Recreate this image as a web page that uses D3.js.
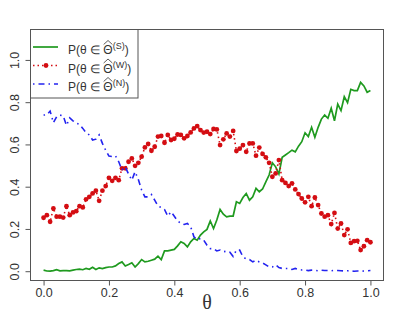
<!DOCTYPE html>
<html>
<head>
<meta charset="utf-8">
<script src="https://cdn.jsdelivr.net/npm/d3@7"></script>
<style>
  html, body { margin: 0; padding: 0; background: #fff; }
  svg { display: block; }
</style>
</head>
<body>
<figure id="chart" style="margin:0"></figure>
<script>
// theta grid 0, 0.01, ..., 1
const theta = d3.range(101).map(i => i / 100);

// P(theta in Theta^(S)) - strong
const probS = [
  0.005, 0.001, 0.0, 0.003, 0.007, 0.002, 0.003, 0.003, 0.002, 0.005,
  0.008, 0.01, 0.007, 0.013, 0.009, 0.019, 0.008, 0.016, 0.012, 0.017,
  0.02, 0.02, 0.025, 0.036, 0.044, 0.025, 0.032, 0.04, 0.02, 0.036,
  0.055, 0.044, 0.047, 0.052, 0.057, 0.071, 0.055, 0.096, 0.096, 0.1,
  0.103, 0.12, 0.139, 0.131, 0.115, 0.139, 0.155, 0.147, 0.171, 0.186,
  0.198, 0.238, 0.202, 0.242, 0.292, 0.27, 0.257, 0.261, 0.261, 0.329,
  0.321, 0.349, 0.368, 0.336, 0.352, 0.392, 0.376, 0.389, 0.423, 0.455,
  0.513, 0.494, 0.46, 0.539, 0.55, 0.561, 0.573, 0.565, 0.592, 0.613,
  0.655, 0.637, 0.681, 0.634, 0.681, 0.72, 0.739, 0.724, 0.771, 0.712,
  0.791, 0.76, 0.826, 0.798, 0.861, 0.855, 0.855, 0.894, 0.877, 0.847,
  0.855
];

// P(theta in Theta^(W)) - weak
const probW = [
  0.253, 0.265, 0.234, 0.297, 0.258, 0.258, 0.254, 0.308, 0.265, 0.278,
  0.284, 0.308, 0.302, 0.34, 0.352, 0.368, 0.381, 0.333, 0.381, 0.403,
  0.442, 0.428, 0.442, 0.431, 0.487, 0.487, 0.518, 0.534, 0.499, 0.513,
  0.542, 0.586, 0.602, 0.57, 0.589, 0.637, 0.64, 0.608, 0.645, 0.621,
  0.627, 0.647, 0.645, 0.629, 0.64, 0.657, 0.676, 0.687, 0.668, 0.656,
  0.66, 0.649, 0.673, 0.671, 0.597, 0.624, 0.652, 0.637, 0.664, 0.569,
  0.58, 0.597, 0.565, 0.605, 0.605, 0.547, 0.585, 0.555, 0.539, 0.513,
  0.447, 0.463, 0.526, 0.431, 0.418, 0.403, 0.416, 0.387, 0.365, 0.344,
  0.326, 0.352, 0.308, 0.349, 0.313, 0.273, 0.258, 0.265, 0.223, 0.276,
  0.202, 0.226, 0.171, 0.198, 0.134, 0.142, 0.144, 0.1, 0.118, 0.147,
  0.137
];

// P(theta in Theta^(N)) - none
const probN = [
  0.739, 0.74, 0.758, 0.703, 0.731, 0.739, 0.735, 0.69, 0.726, 0.712,
  0.7, 0.695, 0.676, 0.656, 0.645, 0.621, 0.625, 0.645, 0.605, 0.573,
  0.545, 0.543, 0.546, 0.518, 0.479, 0.494, 0.46, 0.431, 0.471, 0.434,
  0.384, 0.352, 0.352, 0.363, 0.336, 0.308, 0.302, 0.292, 0.261, 0.281,
  0.26, 0.238, 0.226, 0.221, 0.226, 0.21, 0.163, 0.15, 0.155, 0.147,
  0.123, 0.107, 0.107, 0.096, 0.1, 0.092, 0.095, 0.09, 0.07, 0.1,
  0.1, 0.068, 0.058, 0.055, 0.044, 0.052, 0.044, 0.039, 0.03, 0.02,
  0.02, 0.03, 0.017, 0.013, 0.013, 0.013, 0.008, 0.013, 0.008, 0.006,
  0.006, 0.003, 0.005, 0.004, 0.002, 0.005, 0.003, 0.003, 0.002, 0.004,
  0.003, 0.002, 0.001, 0.002, 0.001, 0.0, 0.001, 0.0, 0.001, 0.002,
  0.003
];

const xTicks = [0, 0.2, 0.4, 0.6, 0.8, 1.0];
const yTicks = [0, 0.2, 0.4, 0.6, 0.8, 1.0];
const legendKeys = ["S", "W", "N"];

const width = 399, height = 319;
const green = "#1f9a1f", red = "#d40d12", blue = "#2323f0";
const axisGrey = "#555", textCol = "#333";

const svg = d3.select("figure#chart")
  .append("svg")
  .attr("width", width)
  .attr("height", height)
  .style("font-family", "'Liberation Sans', Arial, sans-serif");

// R style 4% padding round xlim c(0,1) and ylim c(0,1.1)
const x = d3.scaleLinear().domain([-0.04, 1.04]).range([30.5, 383.5]);
const y = d3.scaleLinear().domain([-0.044, 1.144]).range([280.5, 29.5]);

// axes
const gx = svg.append("g")
  .attr("transform", "translate(0," + y.range()[0] + ")")
  .call(d3.axisBottom(x).tickValues(xTicks).tickFormat(d3.format(".1f"))
    .tickSize(5).tickSizeOuter(0).tickPadding(3));
gx.selectAll("text").style("font-size", "12.5px").attr("fill", textCol);

const gy = svg.append("g")
  .attr("transform", "translate(" + x.range()[0] + ",0)")
  .call(d3.axisLeft(y).tickValues(yTicks).tickFormat(d3.format(".1f"))
    .tickSize(5).tickSizeOuter(0));
gy.selectAll("text")
  .style("font-size", "12.5px").attr("fill", textCol)
  .attr("x", 0).attr("dy", "0.35em")
  .attr("text-anchor", "middle")
  .attr("transform", "translate(-15.5,0) rotate(-90)");

svg.selectAll(".domain").remove();
svg.selectAll(".tick line").attr("stroke", axisGrey);

// plot box
svg.append("rect")
  .attr("x", x.range()[0]).attr("y", y.range()[1])
  .attr("width", x.range()[1] - x.range()[0])
  .attr("height", y.range()[0] - y.range()[1])
  .attr("fill", "none").attr("stroke", axisGrey);

// x label
svg.append("text")
  .attr("x", (x.range()[0] + x.range()[1]) / 2)
  .attr("y", 309)
  .attr("text-anchor", "middle")
  .style("font-family", "'Liberation Serif', 'DejaVu Serif', serif")
  .style("font-size", "20px")
  .attr("fill", textCol)
  .text("θ");

const line = d3.line().x((d, i) => x(theta[i])).y(d => y(d));

svg.append("path").datum(probS)
  .attr("d", line).attr("fill", "none")
  .attr("stroke", green).attr("stroke-width", 1.7);

svg.append("path").datum(probW)
  .attr("d", line).attr("fill", "none")
  .attr("stroke", red).attr("stroke-width", 1.6)
  .attr("stroke-dasharray", "1.5,3");

svg.selectAll("circle.w")
  .data(probW)
  .enter()
  .append("circle")
  .attr("class", "w")
  .attr("cx", (d, i) => x(theta[i]))
  .attr("cy", d => y(d))
  .attr("r", 2.4)
  .attr("fill", red);

svg.append("path").datum(probN)
  .attr("d", line).attr("fill", "none")
  .attr("stroke", blue).attr("stroke-width", 1.6)
  .attr("stroke-dasharray", "1.5,4,6,4");

// legend
const leg = svg.append("g");
leg.append("rect")
  .attr("x", 30.5).attr("y", 29.5)
  .attr("width", 107.5).attr("height", 68.5)
  .attr("fill", "#fff").attr("stroke", axisGrey);

const styles = [
  { col: green, dash: null, pt: false },
  { col: red, dash: "1.5,3", pt: true },
  { col: blue, dash: "1.5,4,6,4", pt: false }
];

legendKeys.forEach((k, j) => {
  const ry = 47 + j * 18.5;
  const st = styles[j];
  leg.append("line")
    .attr("x1", 33).attr("x2", 58).attr("y1", ry).attr("y2", ry)
    .attr("stroke", st.col).attr("stroke-width", 1.7)
    .attr("stroke-dasharray", st.dash);
  if (st.pt) {
    leg.append("circle").attr("cx", 46).attr("cy", ry).attr("r", 2.4).attr("fill", red);
  }
  const t = leg.append("text")
    .attr("x", 68).attr("y", ry + 7)
    .style("font-size", "12px")
    .attr("fill", textCol);
  const pre = "P(θ \u2208 ";
  t.append("tspan").text(pre);
  t.append("tspan").text("Θ");
  t.append("tspan").attr("dy", -5).style("font-size", "9px").text("(" + k + ")");
  t.append("tspan").attr("dy", 5).text(")");
  // wide hat over Theta
  const ext = t.node().getExtentOfChar(pre.length);
  const top = ry - 2.5;
  leg.append("path")
    .attr("d", "M" + (ext.x + 0.3) + "," + top + "L" + (ext.x + ext.width / 2) + "," + (top - 4) +
      "L" + (ext.x + ext.width - 0.3) + "," + top)
    .attr("fill", "none").attr("stroke", textCol).attr("stroke-width", 0.8);
});
</script>
</body>
</html>
